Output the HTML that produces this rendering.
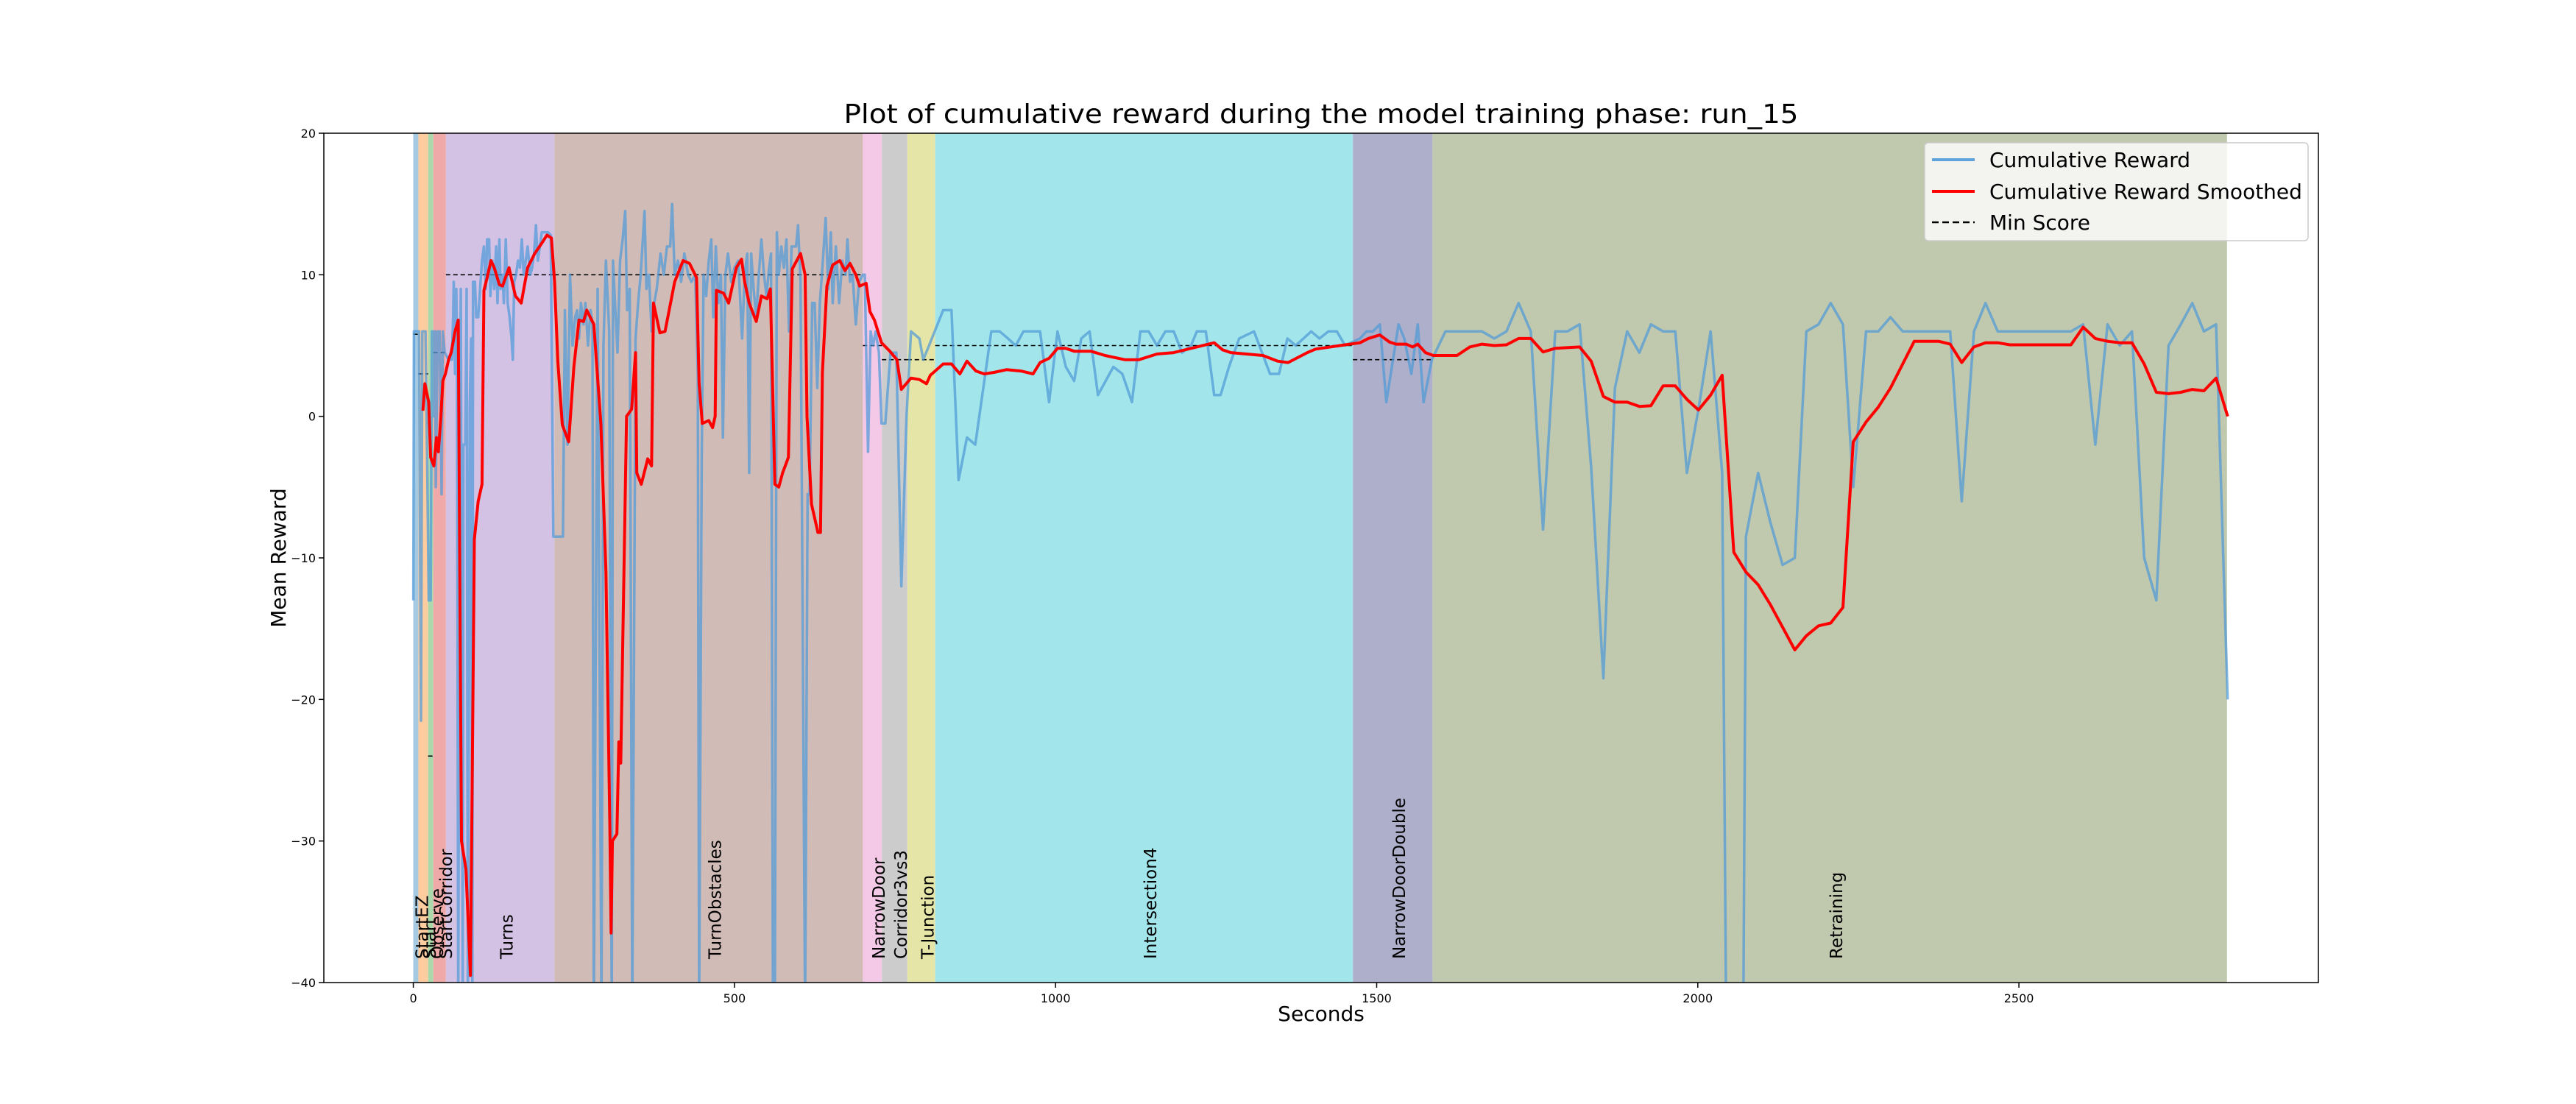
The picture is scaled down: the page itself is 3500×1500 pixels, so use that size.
<!DOCTYPE html>
<html><head><meta charset="utf-8"><style>
html,body{margin:0;padding:0;background:#fff;}
svg{display:block;font-family:"DejaVu Sans","Liberation Sans",sans-serif;}
</style></head><body>
<svg id="chart" width="3500" height="1500" viewBox="0 0 3500 1500" xmlns="http://www.w3.org/2000/svg">
<defs><clipPath id="plotclip"><rect x="440" y="181" width="2710" height="1154"/></clipPath></defs>
<rect width="3500" height="1500" fill="#fff"/>
<text x="1795" y="167" font-size="36" text-anchor="middle" textLength="1297" lengthAdjust="spacingAndGlyphs">Plot of cumulative reward during the model training phase: run_15</text>
<g id="regions" clip-path="url(#plotclip)"></g>
<g id="minlines" clip-path="url(#plotclip)"></g>
<g id="series" clip-path="url(#plotclip)"></g>
<g id="rlabels"></g>
<rect x="440" y="181" width="2710" height="1154" fill="none" stroke="#000" stroke-width="1.5"/>
<g id="ticks"></g>
<text x="1795" y="1387" font-size="28" text-anchor="middle">Seconds</text>
<text x="388" y="758" font-size="28" text-anchor="middle" transform="rotate(-90 388 758)">Mean Reward</text>
<g>
<rect x="2615" y="194" width="521" height="133" rx="5" fill="#fff" fill-opacity="0.8" stroke="#ccc" stroke-width="1.5"/>
<line x1="2625" y1="217" x2="2683" y2="217" stroke="#5ea3dc" stroke-width="4"/>
<text x="2703" y="227" font-size="28">Cumulative Reward</text>
<line x1="2625" y1="260" x2="2683" y2="260" stroke="#ff0000" stroke-width="4"/>
<text x="2703" y="270" font-size="28">Cumulative Reward Smoothed</text>
<line x1="2625" y1="302" x2="2683" y2="302" stroke="#000" stroke-width="2.5" stroke-dasharray="9,5"/>
<text x="2703" y="312" font-size="28">Min Score</text>
</g>
</svg>
<script>
const regionNames = ["StartEZ","Start","Observe","StartCorridor","Turns","TurnObstacles","NarrowDoor","Corridor3vs3","T-Junction","Intersection4","NarrowDoorDouble","Retraining"];
const regionStarts = [0,7.9,23,31,50.7,219.7,700,729.6,769.2,812.6,1463,1587];
const regionEnds = [7.9,23,31,50.7,219.7,700,729.6,769.2,812.6,1463,1587,2824];
const regionColors = ["#a5c9e1","#ffcc9f","#abd9ab","#efa9a9","#d4c2e5","#d1bbb7","#f4c9e7","#cccccc","#e4e5a7","#a2e5ea","#aeafca","#c0c8ae"];
const minScores = [5.8,3,-24,4.5,10,10,5,4,4,5,4,null];
const yTicks = [20,10,0,-10,-20,-30,-40];
const xTicks = [0,500,1000,1500,2000,2500];
const blueT = [0,1,6,9,12,14,17,19,22,24,27,29,31,32,34,35,38,41,44,46,49,55,60,62,63,65,67,68,70,72,74,77,78,81,83,85,88,90,92,93,96,98,101,104,107,110,113,115,118,120,123,126,129,131,134,136,139,141,144,147,150,153,155,157,160,163,166,169,172,175,178,182,185,188,191,194,197,200,205,210,214,218,233,236,240,244,248,252,255,258,261,265,268,272,276,279,281,287,293,296,300,305,309,311,314,318,322,326,330,333,337,341,346,350,354,360,363,367,371,375,379,385,390,395,400,403,407,412,417,422,428,433,439,443,445,449,452,456,460,464,467,471,475,479,482,486,490,495,500,506,512,516,520,523,526,530,534,538,542,546,550,554,557,560,563,566,569,573,577,581,585,589,596,599,603,610,614,617,621,625,629,633,637,642,646,650,653,658,663,668,673,676,680,684,689,694,700,703,708,712,716,720,725,729,735,743,752,760,768,775,788,794,803,825,838,849,862,875,900,913,926,938,950,976,990,1003,1016,1029,1040,1053,1066,1090,1104,1119,1132,1145,1158,1171,1184,1197,1211,1220,1234,1247,1257,1270,1286,1309,1334,1348,1361,1374,1398,1411,1425,1438,1451,1474,1484,1494,1505,1515,1534,1543,1554,1564,1573,1586,1607,1664,1683,1702,1721,1740,1759,1778,1797,1816,1834,1853,1871,1890,1909,1927,1946,1965,1983,2001,2020,2038,2044,2071,2075,2094,2113,2132,2151,2169,2188,2207,2226,2242,2262,2281,2300,2319,2393,2411,2430,2448,2467,2581,2600,2619,2638,2657,2676,2695,2714,2733,2752,2770,2788,2807,2825];
const blueV = [-13,6,6,6,-21.5,6,6,6,-5,-13,-13,6,6,0,6,-5,6,6,-5.5,6,4.5,4,4,7,9.5,3,9,5,-42,-3,9,-42,-2,-2,9,-42,1,5.5,-42,9.5,9.5,7,7,9,11,12,9,12.5,12.5,8.5,11,9,12,8,12.5,9,10,8,12.5,8,7,5.5,4,9.5,10,11,10.5,12.5,10,11,12,10,10.5,11.5,13.5,11,12,13,13,13,12.8,-8.5,-8.5,7.5,-2,10,5,7,7.5,5.5,8,6.5,8,5,7.5,6.5,-42,9,-42,5,11,6,-42,11,8,4.5,11,12.5,14.5,7.5,9,-42,5.5,8,10,14.5,9,10,6,8,9,11.5,10,12,12,15,10,11,9.5,11.5,10,9.5,10,3,-42,-3,10,8.5,11,12.5,7,12,8,10,-1.5,10,11.5,9.5,10.5,11,5.5,10,11.5,-4,11.5,9,7,10,12.5,10,8.5,10.5,11.5,-42,-42,13,10,12,10.5,12.5,6,12,12,13.5,9.5,-42,-5.5,-5.5,8,8,2,8,10.5,14,9,13,8,12,8,11,10,12.5,9.5,10,6.5,9.5,10,10,-2.5,6,5,6,4.5,-0.5,-0.5,4.5,4.5,-12,0,6,5.5,4,5,7.5,7.5,-4.5,-1.5,-2,6,6,5.5,5,6,6,1,6,3.5,2.5,5.5,6,1.5,3.5,3,1,6,6,5,6,6,4.5,5,6,6,1.5,1.5,3.5,5.5,6,3,3,5.5,5,6,5.5,6,6,5,5.5,6,6,6.5,1,6.5,5.5,3,6.5,1,4,6,6,5.5,6,8,6,-8,6,6,6.5,-3.6,-18.5,2,6,4.5,6.5,6,6,-4,0.5,6,-4,-42,-42,-8.5,-4,-7.5,-10.5,-10,6,6.5,8,6.5,-5,6,6,7,6,6,-6,6,8,6,6,6.5,-2,6.5,5,6,-10,-13,5,6.5,8,6,6.5,-20];
const redT = [15,18,24,27,32,36,39,43,46,50,55,59,65,70,75,82,89,95,101,107,110,115,121,126,134,139,149,159,168,178,189,201,208,215,220,225,232,242,250,258,265,270,281,292,300,306,308,310,317,320,323,332,340,346,348,355,365,371,374,384,392,407,420,430,441,445,450,460,466,470,472,483,491,503,511,516,523,534,542,551,556,563,569,575,584,590,603,610,613,620,630,634,637,644,653,664,672,680,689,695,705,711,718,729,742,753,760,775,788,799,805,825,838,851,862,876,889,904,924,946,965,976,990,1003,1016,1029,1055,1077,1108,1130,1158,1184,1211,1247,1260,1273,1323,1346,1362,1392,1405,1451,1474,1487,1505,1520,1530,1546,1556,1564,1576,1588,1625,1645,1664,1683,1702,1721,1740,1759,1778,1816,1834,1853,1871,1890,1909,1927,1946,1965,1983,2001,2020,2038,2056,2075,2094,2113,2132,2151,2169,2188,2207,2226,2242,2262,2281,2300,2319,2337,2356,2375,2393,2411,2430,2448,2467,2486,2581,2600,2619,2638,2657,2676,2695,2714,2733,2752,2770,2788,2807,2825];
const redV = [0.4,2.3,1,-2.9,-3.5,-1.5,-2.5,0,2.5,3,4,4.5,6,6.8,-30,-32,-39.5,-8.7,-6,-4.8,8.9,9.8,11,10.5,9.3,9.2,10.5,8.5,8,10.5,11.5,12.3,12.8,12.6,9.5,3.9,-0.6,-1.8,3.5,6.8,6.7,7.5,6.5,-0.5,-11,-29,-36.5,-30,-29.5,-23,-24.5,0,0.5,4.5,-4,-4.8,-3,-3.5,8,5.9,6,9.5,11,10.8,9.8,2.3,-0.5,-0.3,-0.8,0,8.9,8.7,8,10.5,11.1,9.5,8,6.7,8.5,8.3,9,-4.8,-5,-4,-2.9,10.4,11.5,10,0,-6.2,-8.2,-8.2,3.1,9.2,10.7,11,10.3,10.8,10,9.2,9.4,7.4,6.8,5.2,4.6,4,1.9,2.7,2.6,2.3,2.9,3.7,3.7,3,3.9,3.2,3,3.1,3.3,3.2,3,3.8,4.1,4.8,4.8,4.6,4.6,4.3,4,4,4.4,4.5,4.8,5.2,4.7,4.5,4.3,3.9,3.8,4.5,4.75,5.05,5.2,5.5,5.75,5.25,5.1,5.1,4.9,5.1,4.5,4.3,4.3,4.9,5.1,5,5.05,5.5,5.5,4.55,4.8,4.9,3.9,1.4,1,1,0.7,0.75,2.15,2.15,1.2,0.45,1.5,2.9,-9.6,-11,-11.9,-13.3,-14.9,-16.5,-15.5,-14.8,-14.6,-13.5,-1.8,-0.4,0.65,2,3.7,5.3,5.3,5.3,5.1,3.8,4.9,5.2,5.2,5.05,5.05,6.3,5.5,5.3,5.2,5.2,3.7,1.7,1.6,1.7,1.9,1.8,2.7,0];

const NS = "http://www.w3.org/2000/svg";
const XMIN = -139.3, XMAX = 2966.3, YMIN = -40, YMAX = 20;
const PL = 440, PR = 3150, PT = 181, PB = 1335;
function X(t){ return PL + (t - XMIN) / (XMAX - XMIN) * (PR - PL); }
function Y(v){ return PT + (YMAX - v) / (YMAX - YMIN) * (PB - PT); }
function mk(tag, parent){ const e = document.createElementNS(NS, tag); parent.appendChild(e); return e; }

const gReg = document.getElementById('regions');
const gMin = document.getElementById('minlines');
const gSer = document.getElementById('series');
const gLab = document.getElementById('rlabels');
const gTick = document.getElementById('ticks');

for (let i = 0; i < regionNames.length; i++) {
  const r = mk('rect', gReg);
  
  
  r.setAttribute('x', X(regionStarts[i]));
  r.setAttribute('y', PT);
  r.setAttribute('width', X(regionEnds[i]) - X(regionStarts[i]));
  r.setAttribute('height', PB - PT);
  r.setAttribute('fill', regionColors[i]);
  if (minScores[i] !== null) {
    const l = mk('line', gMin);
    
    
    l.setAttribute('x1', X(regionStarts[i]));
    l.setAttribute('x2', X(regionEnds[i]));
    l.setAttribute('y1', Y(minScores[i]));
    l.setAttribute('y2', Y(minScores[i]));
    l.setAttribute('stroke', '#000');
    l.setAttribute('stroke-width', '1.6');
    l.setAttribute('stroke-dasharray', '6,4');
  }
  const mid = (regionStarts[i] + regionEnds[i]) / 2 + 10;
  const tx = X(mid) + 8, ty = 1303;
  const t = mk('text', gLab);
  
  
  t.setAttribute('x', tx);
  t.setAttribute('y', ty);
  t.setAttribute('font-size', '23');
  t.setAttribute('transform', 'rotate(-90 ' + tx + ' ' + ty + ')');
  t.textContent = regionNames[i];
}

function poly(ts, vs, name, color, w, op) {
  const p = mk('polyline', gSer);
  
  
  p.setAttribute('points', ts.map((t, i) => X(t).toFixed(1) + ',' + Y(vs[i]).toFixed(1)).join(' '));
  p.setAttribute('fill', 'none');
  p.setAttribute('stroke', color);
  p.setAttribute('stroke-width', w);
  p.setAttribute('stroke-opacity', op);
  p.setAttribute('stroke-linejoin', 'round');
}
poly(blueT, blueV, 'cumulative-reward-line', '#4f9ad8', 3.5, 0.72);
poly(redT, redV, 'smoothed-reward-line', '#ff0000', 4, 1);

yTicks.forEach(v => {
  const l = mk('line', gTick);
  
  
  l.setAttribute('x1', PL - 7); l.setAttribute('x2', PL);
  l.setAttribute('y1', Y(v)); l.setAttribute('y2', Y(v));
  l.setAttribute('stroke', '#000'); l.setAttribute('stroke-width', '1.5');
  const t = mk('text', gTick);
  
  
  t.setAttribute('x', PL - 11); t.setAttribute('y', Y(v) + 6);
  t.setAttribute('font-size', '16'); t.setAttribute('text-anchor', 'end');
  t.textContent = v < 0 ? '\u2212' + Math.abs(v) : String(v);
});
xTicks.forEach(v => {
  const l = mk('line', gTick);
  
  
  l.setAttribute('x1', X(v)); l.setAttribute('x2', X(v));
  l.setAttribute('y1', PB); l.setAttribute('y2', PB + 7);
  l.setAttribute('stroke', '#000'); l.setAttribute('stroke-width', '1.5');
  const t = mk('text', gTick);
  
  
  t.setAttribute('x', X(v)); t.setAttribute('y', PB + 27);
  t.setAttribute('font-size', '16'); t.setAttribute('text-anchor', 'middle');
  t.textContent = String(v);
});
</script>
</body></html>
